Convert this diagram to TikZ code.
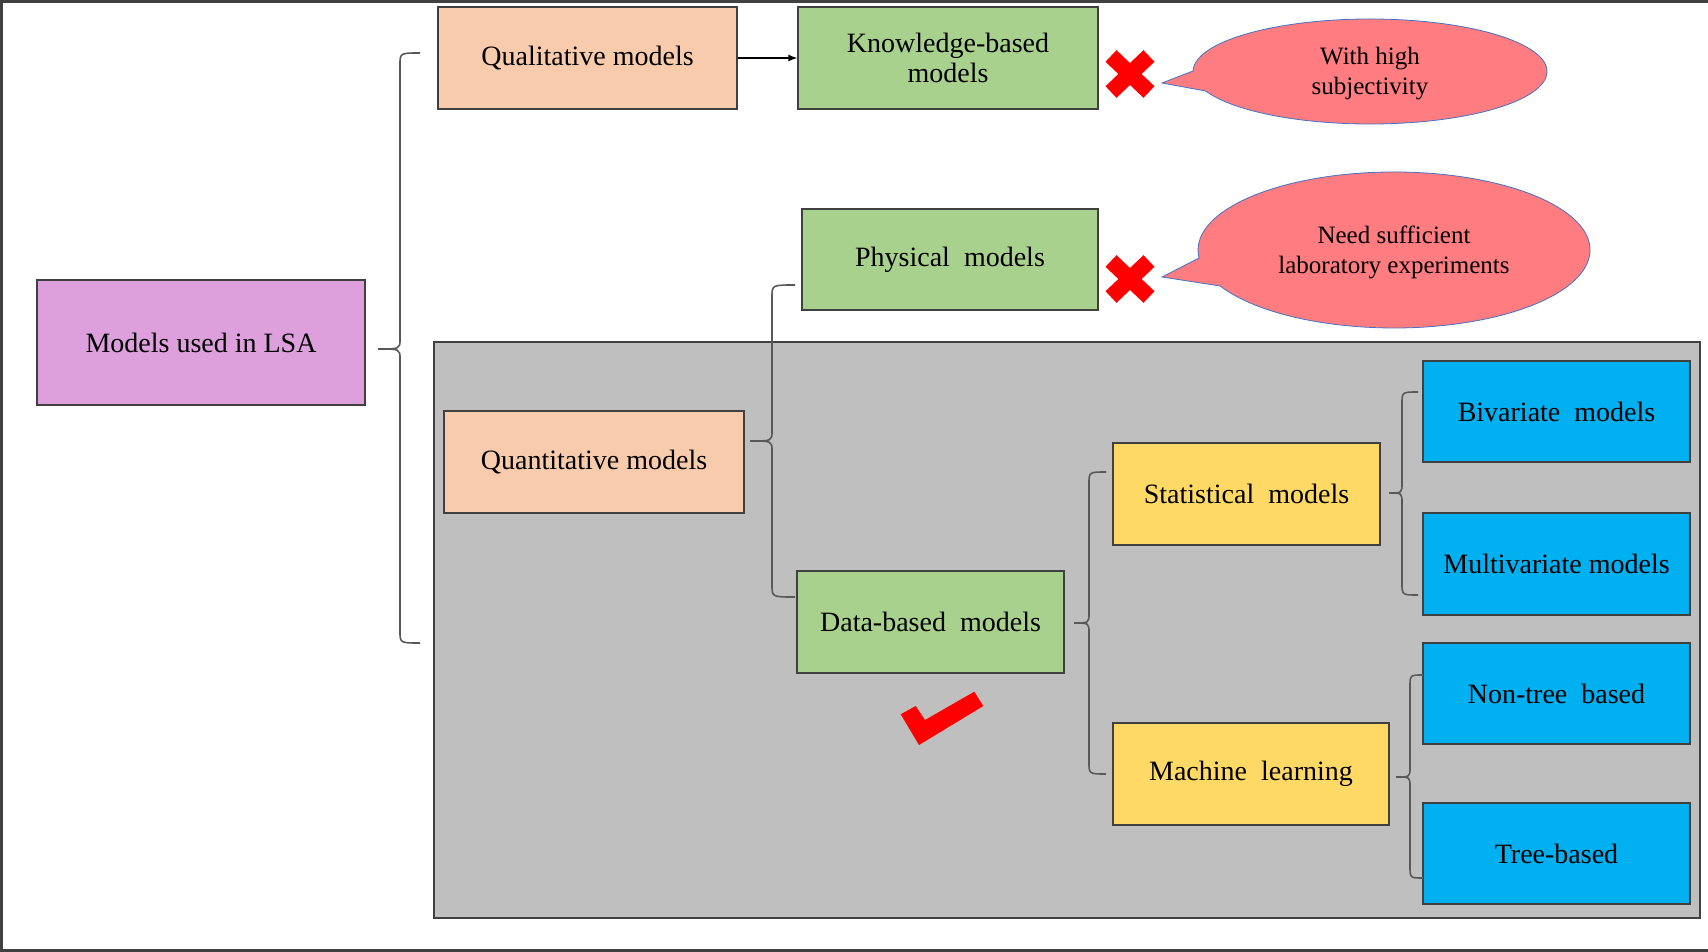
\documentclass[tikz,border=0pt]{standalone}
\usepackage{fontspec}
\setmainfont{Liberation Serif}
\usetikzlibrary{arrows.meta}
\definecolor{peach}{HTML}{F8CBAD}
\definecolor{leaf}{HTML}{A9D18E}
\definecolor{plum}{HTML}{DDA0DD}
\definecolor{sun}{HTML}{FFD966}
\definecolor{sky}{HTML}{00B0F0}
\definecolor{greybg}{HTML}{BFBFBF}
\definecolor{salmon}{HTML}{FF7C80}
\definecolor{calloutline}{HTML}{4472C4}
\definecolor{edge}{HTML}{404040}
\definecolor{bracecol}{HTML}{595959}
\tikzset{
  box/.style={draw=edge, line width=1.3pt, minimum width=#1, inner sep=0pt, align=center,
    font=\fontsize{28}{32}\selectfont},
  box/.default=300pt,
  bracepath/.style={draw=bracecol, line width=1.6pt},
  bubble/.style={fill=salmon, draw=calloutline, line width=0.8pt},
  bubbletext/.style={align=center, font=\fontsize{25}{30}\selectfont},
  cross/.style={draw=red, line width=16pt},
}
% brace: #1 end x, #2 vertical x, #3 tip x, #4 top y, #5 tip y, #6 bottom y
\newcommand\mybrace[6]{%
  \draw[bracepath] (#1,#4) .. controls (#2,#4) .. (#2,#4+12) -- (#2,#5-10)
    .. controls (#2,#5) .. (#3,#5) .. controls (#2,#5) .. (#2,#5+10) -- (#2,#6-12)
    .. controls (#2,#6) .. (#1,#6);}
\begin{document}
\begin{tikzpicture}[x=1pt,y=-1pt]
\useasboundingbox (0,0) rectangle (1708,952);
% frame
\draw[edge, line width=2.5pt] (1708,1.5) -- (1.5,1.5) -- (1.5,950.5) -- (1708,950.5);
% grey region
\node[fill=greybg, draw=edge, line width=1.3pt, minimum width=1266pt, minimum height=576pt, inner sep=0pt] (grey) at (1067,630) {};
% nodes
\node[box=328pt, fill=plum, minimum height=125pt] (lsa) at (201,342.5) {Models used in LSA};
\node[box=299pt, fill=peach, minimum height=102pt] (qual) at (587.5,58) {Qualitative models};
\node[box=300pt, fill=leaf, minimum height=102pt] (know) at (948,58) {Knowledge-based\\[-2pt]models};
\node[box=296pt, fill=leaf, minimum height=101pt] (phys) at (950,259.5) {Physical\ \ models};
\node[box=300pt, fill=peach, minimum height=102pt] (quant) at (594,462) {Quantitative models};
\node[box=267pt, fill=leaf, minimum height=102pt] (data) at (930.5,622) {Data-based\ \ models};
\node[box=267pt, fill=sun, minimum height=102pt] (stat) at (1246.5,494) {Statistical\ \ models};
\node[box=276pt, fill=sun, minimum height=102pt] (ml) at (1251,774) {Machine\ \ learning};
\node[box=267pt, fill=sky, minimum height=101pt] (biv) at (1556.5,411.5) {Bivariate\ \ models};
\node[box=267pt, fill=sky, minimum height=102pt] (multi) at (1556.5,564) {Multivariate models};
\node[box=267pt, fill=sky, minimum height=101pt] (nontree) at (1556.5,693.5) {Non-tree\ \ based};
\node[box=267pt, fill=sky, minimum height=101pt] (tree) at (1556.5,853.5) {Tree-based};
% arrow
\draw[-{Latex[length=9pt,width=7pt]}, line width=1.3pt] (qual.east) -- (know.west);
% braces
\mybrace{420}{400}{378}{53}{349}{643}
\mybrace{795}{772}{750}{285}{441}{597}
\mybrace{1106}{1089}{1074}{472}{623}{774}
\mybrace{1418}{1402}{1389}{392}{493}{595}
\mybrace{1423}{1410}{1396}{675}{777}{878}
% callout 1
\path[bubble] (1193,71) -- (1162,83) -- (1205.7,91)
  arc[start angle=158.2, end angle=-179.5, x radius=177, y radius=52.5] -- cycle;
\coordinate (c1) at (1370,74);
\node[bubbletext] (t1) at (c1) {With high\\subjectivity};
% callout 2
\path[bubble] (1199,258) -- (1162,277) -- (1220.2,286)
  arc[start angle=152.5, end angle=-185.9, x radius=196, y radius=78] -- cycle;
\coordinate (c2) at (1394,252);
\node[bubbletext] (t2) at (c2) {Need sufficient\\laboratory experiments};
% crosses
\coordinate (x1) at (1130,74);
\coordinate (x2) at (1130,279);
\foreach \c in {x1,x2}{
  \draw[cross] ([shift={(-19,-18)}]\c) -- ([shift={(19,18)}]\c);
  \draw[cross] ([shift={(-19,18)}]\c) -- ([shift={(19,-18)}]\c);
}
% check mark
\fill[red] (900.7,714.3) -- (915.7,706) -- (925,720) -- (974.3,691.7) -- (983.3,706) -- (919,745) -- cycle;
\end{tikzpicture}
\end{document}
